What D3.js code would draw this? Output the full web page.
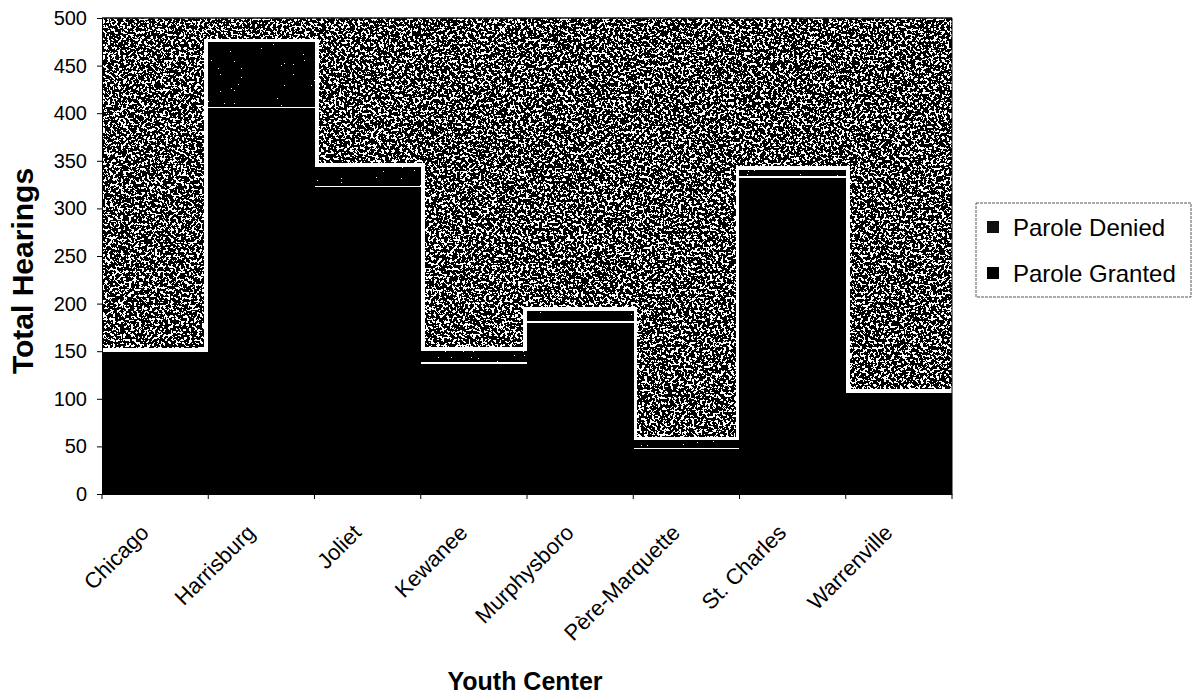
<!DOCTYPE html>
<html>
<head>
<meta charset="utf-8">
<script src="https://cdn.jsdelivr.net/npm/d3@7"></script>
<style>
  html, body { margin: 0; padding: 0; background: #fff; }
  svg { display: block; font-family: Arial, "Liberation Sans", sans-serif; }
</style>
</head>
<body>
<svg id="chart" width="1195" height="698"></svg>
<script>
// ---- data ----
const categories = ["Chicago", "Harrisburg", "Joliet", "Kewanee", "Murphysboro", "Père-Marquette", "St. Charles", "Warrenville"];
const paroleGranted = [149, 405, 322, 137, 180, 47, 332, 106];
const paroleDenied  = [0, 69, 21, 13, 12, 9, 8, 0];
const seriesNames = ["Parole Denied", "Parole Granted"];
const yTicks = [0, 50, 100, 150, 200, 250, 300, 350, 400, 450, 500];

// ---- layout ----
const svg = d3.select("#chart");
const pLeft = 102, pRight = 952, pTop = 18, pBottom = 494;

const x = d3.scaleBand().domain(categories).range([pLeft, pRight]).paddingInner(0).paddingOuter(0);
const y = d3.scaleLinear().domain([0, 500]).range([pBottom, pTop]);

const defs = svg.append("defs");
function noiseFilter(id, freq, oct, seed, table) {
  const f = defs.append("filter").attr("id", id).attr("x", 0).attr("y", 0).attr("width", 1).attr("height", 1);
  f.append("feTurbulence").attr("type", "fractalNoise").attr("baseFrequency", freq).attr("numOctaves", oct).attr("seed", seed).attr("result", "t");
  f.append("feColorMatrix").attr("in", "t").attr("type", "matrix")
    .attr("values", "1 0 0 0 0  1 0 0 0 0  1 0 0 0 0  0 0 0 0 1").attr("result", "g");
  const ct = f.append("feComponentTransfer").attr("in", "g");
  ct.append("feFuncR").attr("type", "discrete").attr("tableValues", table);
  ct.append("feFuncG").attr("type", "discrete").attr("tableValues", table);
  ct.append("feFuncB").attr("type", "discrete").attr("tableValues", table);
}
// speckled grey noise resembling the scanned fill
noiseFilter("noise", 0.38, 4, 7, "0 0 0 0 0 0 0 0 0 0 0 1 1 1 1 1 1 1 1 1");
// sparse speckle for denied segments
noiseFilter("noise2", 0.7, 2, 3, "0 0 0 0 0 0 0 0 0 0 0 0 0 0 0 0 1 1 1 1");

defs.append("clipPath").attr("id", "plotClip").append("rect")
  .attr("x", pLeft).attr("y", pTop).attr("width", pRight - pLeft).attr("height", pBottom - pTop);

// plot background
svg.append("rect").attr("x", pLeft).attr("y", pTop).attr("width", pRight - pLeft).attr("height", pBottom - pTop)
  .attr("filter", "url(#noise)");

const data = categories.map((c, i) => ({ cat: c, granted: paroleGranted[i], denied: paroleDenied[i], total: paroleGranted[i] + paroleDenied[i] }));

const g = svg.append("g").attr("clip-path", "url(#plotClip)").attr("shape-rendering", "crispEdges");
const halo = 4;
// white halo around each bar
g.selectAll("rect.halo").data(data).join("rect").attr("class", "halo")
  .attr("x", d => x(d.cat) - halo).attr("width", x.bandwidth() + 2 * halo)
  .attr("y", d => y(d.total) - halo).attr("height", d => pBottom - y(d.total) + halo)
  .attr("fill", "#fff");
// granted
g.selectAll("rect.granted").data(data).join("rect").attr("class", "granted")
  .attr("x", d => x(d.cat) - 0.5).attr("width", x.bandwidth() + 1)
  .attr("y", d => y(d.granted)).attr("height", d => pBottom - y(d.granted))
  .attr("fill", "#000");
// denied
g.selectAll("rect.denied").data(data.filter(d => d.denied > 0)).join("rect").attr("class", "denied")
  .attr("x", d => x(d.cat)).attr("width", x.bandwidth())
  .attr("y", d => y(d.total)).attr("height", d => Math.max(0, y(d.granted) - y(d.total) - 2))
  .attr("filter", "url(#noise2)");

// frame lines
svg.append("line").attr("x1", pLeft).attr("x2", pRight).attr("y1", pTop).attr("y2", pTop).attr("stroke", "#111").attr("stroke-width", 1.5);
svg.append("line").attr("x1", pRight).attr("x2", pRight).attr("y1", pTop).attr("y2", pBottom).attr("stroke", "#000").attr("stroke-width", 1);

// y axis
const yAxis = svg.append("g").attr("transform", `translate(${pLeft},0)`)
  .call(d3.axisLeft(y).tickValues(yTicks).tickSize(5).tickPadding(10).tickFormat(d3.format("d")));
yAxis.select(".domain").attr("stroke", "#000");
yAxis.selectAll("text").attr("font-size", 20).attr("fill", "#000").attr("font-family", "Arial, 'Liberation Sans', sans-serif");

// x axis
const xAxis = svg.append("g").attr("transform", `translate(0,${pBottom})`)
  .call(d3.axisBottom(x).tickSize(0).tickFormat(""));
xAxis.select(".domain").attr("stroke", "#000");
xAxis.selectAll(".tick").remove();
const boundaries = categories.map(c => x(c)).concat([pRight]);
svg.append("g").selectAll("line").data(boundaries).join("line")
  .attr("x1", d => d).attr("x2", d => d).attr("y1", pBottom).attr("y2", pBottom + 5)
  .attr("stroke", "#000");

svg.append("g").selectAll("text").data(categories).join("text")
  .attr("transform", d => `translate(${x(d) + x.bandwidth() / 2 - 5},${pBottom + 40}) rotate(-45)`)
  .attr("text-anchor", "end")
  .attr("font-size", 22)
  .attr("fill", "#000")
  .text(d => d);

// axis titles
svg.append("text").attr("transform", `translate(33,${(pTop + pBottom) / 2 + 15}) rotate(-90)`)
  .attr("text-anchor", "middle").attr("font-size", 30).attr("font-weight", "bold").text("Total Hearings");
svg.append("text").attr("x", (pLeft + pRight) / 2 - 2).attr("y", 690)
  .attr("text-anchor", "middle").attr("font-size", 25).attr("font-weight", "bold").text("Youth Center");

// legend
const lg = svg.append("g");
lg.append("rect").attr("x", 976).attr("y", 203).attr("width", 215).attr("height", 94)
  .attr("fill", "#fff").attr("stroke", "#555").attr("stroke-width", 1).attr("stroke-dasharray", "3,1");
const items = lg.selectAll("g.item").data(seriesNames).join("g").attr("class", "item")
  .attr("transform", (d, i) => `translate(987,${221 + i * 46})`);
items.append("rect").attr("width", 12).attr("height", 12).attr("fill", (d, i) => i === 0 ? "#111" : "#000");
items.append("text").attr("x", 26).attr("y", 15).attr("font-size", 24).attr("fill", "#000").text(d => d);
</script>
</body>
</html>
